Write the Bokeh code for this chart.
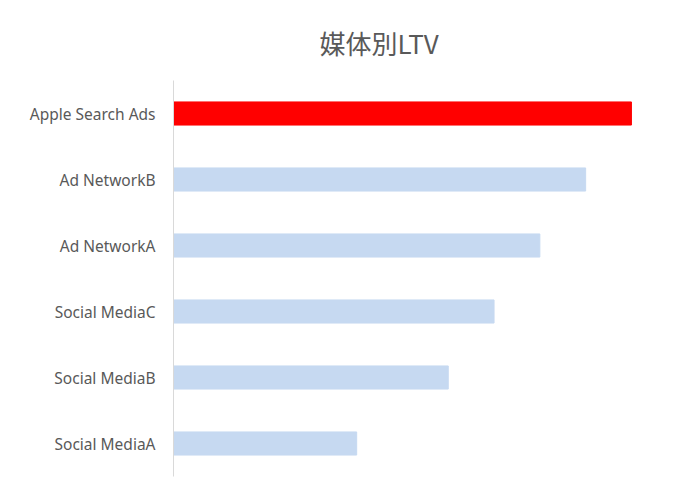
from bokeh.embed import file_html
from bokeh.resources import INLINE
from bokeh.models import ColumnDataSource, Range1d
from bokeh.plotting import figure

# data
media = ["Social MediaA", "Social MediaB", "Social MediaC",
         "Ad NetworkA", "Ad NetworkB", "Apple Search Ads"]
ltv = [4, 6, 7, 8, 9, 10]
colors = ["#c6d9f1", "#c6d9f1", "#c6d9f1", "#c6d9f1", "#c6d9f1", "#ff0000"]

source = ColumnDataSource(data=dict(media=media, ltv=ltv, color=colors))

p = figure(width=659, height=481, y_range=media, x_range=Range1d(0, 10.46),
           output_backend="svg", toolbar_location=None, tools="",
           min_border_left=173, min_border_right=7,
           min_border_top=80, min_border_bottom=5)

p.hbar(y="media", right="ltv", left=0, height=0.35, color="color", source=source)

p.title.text = "媒体別LTV"
p.title.text_font = "Noto Sans CJK JP"
p.title.text_font_size = "26px"
p.title.text_font_style = "normal"
p.title.text_color = "#595959"
p.title.align = "left"
p.title.offset = 146
p.title.standoff = 40

p.xaxis.visible = False
p.xgrid.grid_line_color = None
p.ygrid.grid_line_color = None
p.outline_line_color = None

p.yaxis.axis_line_color = "#d9d9d9"
p.yaxis.major_tick_line_color = None
p.yaxis.minor_tick_line_color = None
p.yaxis.major_label_text_font = "Noto Sans"
p.yaxis.major_label_text_font_size = "15.5px"
p.yaxis.major_label_text_color = "#595959"
p.yaxis.major_label_standoff = 12

open("out.html", "w").write(file_html(p, INLINE))
